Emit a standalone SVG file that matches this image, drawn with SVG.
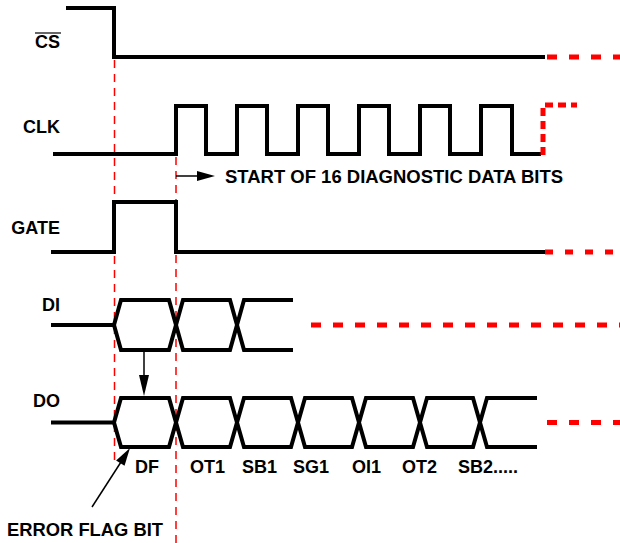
<svg xmlns="http://www.w3.org/2000/svg" width="620" height="543" viewBox="0 0 620 543">
<style>
.sig{fill:none;stroke:#000;stroke-width:4;stroke-linejoin:miter;stroke-linecap:butt}
.cont{fill:none;stroke:#f00;stroke-width:5;stroke-dasharray:10,12}
.guide{fill:none;stroke:#f00;stroke-width:1.5;stroke-dasharray:8,6}
.thin{fill:none;stroke:#000;stroke-width:1.5}
.lbl{font-family:"Liberation Sans",Arial,sans-serif;font-weight:bold;font-size:18px;fill:#000}
.head{fill:#000;stroke:none}
</style>
<g id="guides">
<path class="guide" d="M114.5,60 V460"/>
<path class="guide" d="M176,157 V543"/>
</g>
<g id="cs">
<text class="lbl" x="60" y="48" text-anchor="end">CS</text>
<line x1="35" y1="33" x2="61" y2="33" stroke="#000" stroke-width="1.2"/>
<path class="sig" d="M66,8 H114 V57 H545"/>
<path class="cont" d="M547,57 H620"/>
</g>
<g id="clk">
<text class="lbl" x="60" y="133" text-anchor="end">CLK</text>
<path class="sig" d="M53,154 H176 V106 H206 V154 H237 V106 H267 V154 H298 V106 H328 V154 H359 V106 H389 V154 H420 V106 H450 V154 H481 V106 H512 V154 H541"/>
<path class="cont" d="M543,155 V105 H577" style="stroke-dasharray:8,5"/>
</g>
<g id="gate">
<text class="lbl" x="60" y="234" text-anchor="end">GATE</text>
<path class="sig" d="M51,252 H114 V202 H176 V252 H545"/>
<path class="cont" d="M545,252 H620" style="stroke-dasharray:8,12"/>
</g>
<g id="di">
<text class="lbl" x="60" y="311" text-anchor="end">DI</text>
<path class="sig" d="M51,325 H114 L121,300 H169 L183,350 H230 L244,300 H293"/>
<path class="sig" d="M114,325 L121,350 H169 L183,300 H230 L244,350 H293"/>
<path class="cont" d="M311,325 H620"/>
</g>
<g id="do">
<text class="lbl" x="60" y="407" text-anchor="end">DO</text>
<path class="sig" d="M51,422.5 H114 L121,398 H169 L183,447 H230 L244,398 H291 L305,447 H352 L366,398 H413 L427,447 H473 L487,398 H537"/>
<path class="sig" d="M114,422.5 L121,447 H169 L183,398 H230 L244,447 H291 L305,398 H352 L366,447 H413 L427,398 H473 L487,447 H537"/>
<path class="cont" d="M547,422.5 H620"/>
</g>
<g id="bits">
<text class="lbl" x="135" y="473">DF</text>
<text class="lbl" x="190" y="473">OT1</text>
<text class="lbl" x="242" y="473">SB1</text>
<text class="lbl" x="293" y="473">SG1</text>
<text class="lbl" x="352" y="473">OI1</text>
<text class="lbl" x="402" y="473">OT2</text>
<text class="lbl" x="458" y="473">SB2.....</text>
</g>
<g id="annotations">
<text class="lbl" x="225" y="183" textLength="338" lengthAdjust="spacingAndGlyphs">START OF 16 DIAGNOSTIC DATA BITS</text>
<text class="lbl" x="7" y="536" textLength="156" lengthAdjust="spacingAndGlyphs">ERROR FLAG BIT</text>
</g>
<g id="connectors">
<line class="thin" x1="176" y1="176" x2="198" y2="176"/>
<polygon class="head" points="197,171 215,176 197,181"/>
<line class="thin" x1="144" y1="350" x2="144" y2="377"/>
<polygon class="head" points="139,375 149,375 144,396"/>
<line class="thin" x1="92" y1="507" x2="121" y2="462"/>
<polygon class="head" points="130,448 124.5,465.8 116.1,460.4"/>
</g>
</svg>
